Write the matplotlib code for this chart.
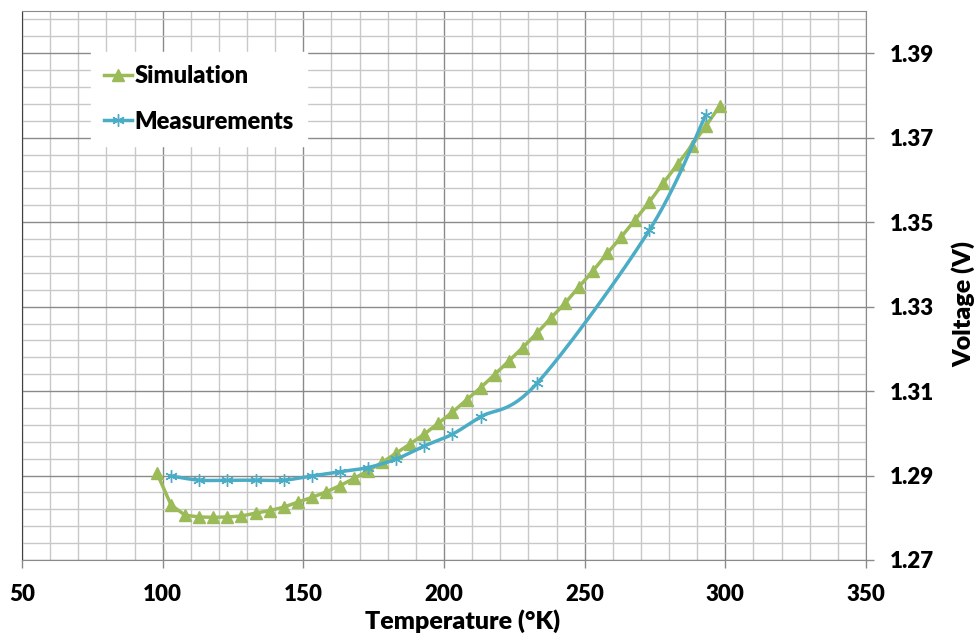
import numpy as np
import matplotlib
matplotlib.use("Agg")
import matplotlib.pyplot as plt
from matplotlib.ticker import MultipleLocator, FixedLocator

plt.rcParams['font.family'] = ['Lato', 'DejaVu Sans']
W = 'heavy'

sim_T = [98, 103, 108, 113, 118, 123, 128, 133, 138, 143, 148, 153, 158, 163, 168,
         173, 178, 183, 188, 193, 198, 203, 208, 213, 218, 223, 228, 233, 238, 243,
         248, 253, 258, 263, 268, 273, 278, 283, 288, 293, 298]
sim_V = [1.2905, 1.2830, 1.2806, 1.2802, 1.2801, 1.2802, 1.2804, 1.2811, 1.2817, 1.2825,
         1.2837, 1.2848, 1.2861, 1.2876, 1.2893, 1.2911, 1.2931, 1.2953, 1.2975, 1.2998,
         1.3024, 1.3050, 1.3079, 1.3108, 1.3139, 1.3171, 1.3203, 1.3237, 1.3273, 1.3308,
         1.3347, 1.3385, 1.3426, 1.3465, 1.3506, 1.3548, 1.3593, 1.3637, 1.3681, 1.3727,
         1.3775]

meas_T = [103, 113, 123, 133, 143, 153, 163, 173, 183, 193, 203, 213, 233, 273, 293]
meas_V = [1.2899, 1.2889, 1.2889, 1.2889, 1.2889, 1.2899, 1.2909, 1.2919, 1.2939,
          1.2970, 1.2998, 1.3039, 1.3118, 1.3481, 1.3753]

x_ticks = [50, 100, 150, 200, 250, 300, 350]
y_ticks = [1.27, 1.29, 1.31, 1.33, 1.35, 1.37, 1.39]

GREEN = '#9BBB59'
BLUE = '#4BACC6'


def smooth(xs, ys, n=30):
    """Excel-style smoothed line (Catmull-Rom Bezier through the points)."""
    P = np.column_stack([xs, ys]).astype(float)
    out = []
    for i in range(len(P) - 1):
        p0 = P[i - 1] if i > 0 else P[i]
        p1, p2 = P[i], P[i + 1]
        p3 = P[i + 2] if i + 2 < len(P) else P[i + 1]
        c1 = p1 + (p2 - p0) / 6.0
        c2 = p2 - (p3 - p1) / 6.0
        t = np.linspace(0, 1, n)[:, None]
        seg = ((1 - t) ** 3) * p1 + 3 * ((1 - t) ** 2) * t * c1 + 3 * (1 - t) * t ** 2 * c2 + t ** 3 * p2
        out.append(seg if i == 0 else seg[1:])
    s = np.vstack(out)
    return s[:, 0], s[:, 1]


fig = plt.figure(figsize=(9.78, 6.35), dpi=100)
ax = fig.add_axes([22 / 978, 75 / 635, 844 / 978, 549 / 635])

ax.set_xlim(50, 350)
ax.set_ylim(1.27, 1.40)
ax.set_xticks(x_ticks)
ax.xaxis.set_minor_locator(MultipleLocator(10))
ax.set_yticks(y_ticks)
ax.yaxis.set_minor_locator(FixedLocator(1.27 + 0.004 * np.arange(0, 33)))

ax.grid(which='minor', color='#c8c8c8', linewidth=1.0)
ax.grid(which='major', color='#8a8a8a', linewidth=1.0)
ax.set_axisbelow(True)

ax.yaxis.tick_right()
ax.yaxis.set_label_position('right')
ax.tick_params(axis='both', which='minor', length=0)
ax.tick_params(axis='y', which='major', direction='out', length=6, width=1, color='#8a8a8a', pad=11, labelsize=16)
ax.tick_params(axis='x', which='major', direction='out', length=6, width=1, color='#8a8a8a', pad=11, labelsize=16)
ax.set_yticklabels([f'{v:.2f}' for v in y_ticks], fontweight=W)
ax.set_xticklabels([str(v) for v in x_ticks], fontweight=W)

for s in ['top', 'right', 'bottom']:
    ax.spines[s].set_color('#8a8a8a')
ax.spines['left'].set_color('#404040')

ax.set_xlabel('Temperature (°K)', fontsize=18, fontweight=W)
ax.set_ylabel('Voltage (V)', fontsize=18, fontweight=W)
ax.xaxis.label.set_va('center')
ax.xaxis.label.set_ha('center')
ax.xaxis.set_label_coords(0.5225, -0.111)
ax.yaxis.label.set_va('center')
ax.yaxis.label.set_ha('center')
ax.yaxis.set_label_coords(1.115, 0.466)

ax.plot(sim_T, sim_V, color=GREEN, linewidth=2.5, zorder=3)
ax.plot(sim_T, sim_V, linestyle='none', marker='^', markersize=8.5, color=GREEN, zorder=3)
mx, my = smooth(meas_T, meas_V)
ax.plot(mx, my, color=BLUE, linewidth=2.5, zorder=4)
ax.plot(meas_T, meas_V, linestyle='none', marker=(6, 2, 0), markersize=9,
        markeredgewidth=1.0, color=BLUE, zorder=4)

h1, = ax.plot([], [], color=GREEN, linewidth=2.5, marker='^', markersize=8.5)
h2, = ax.plot([], [], color=BLUE, linewidth=2.5, marker=(6, 2, 0), markersize=9, markeredgewidth=1.0)
leg = fig.legend([h1, h2], ['Simulation', 'Measurements'],
                 loc='upper left', bbox_to_anchor=(91 / 978, 1 - 52 / 635),
                 frameon=True, fancybox=False, framealpha=1.0, edgecolor='white',
                 prop={'size': 17, 'weight': W}, handlelength=1.2,
                 handletextpad=0.1, labelspacing=1.0, borderpad=0.55,
                 borderaxespad=0.0)
leg.set_zorder(10)

fig.savefig('out.png', dpi=100)
